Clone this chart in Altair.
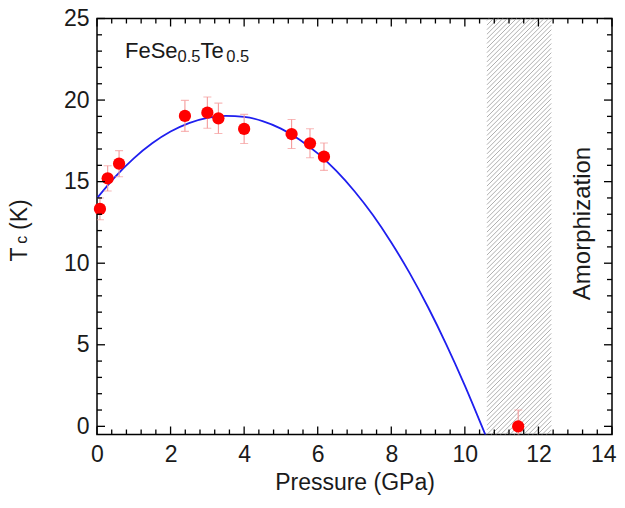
import altair as alt
import pandas as pd

# ---- data ----
pressure = [0.08, 0.29, 0.60, 2.39, 3.00, 3.30, 4.00, 5.29, 5.79, 6.17, 11.45]
tc = [13.33, 15.20, 16.10, 19.03, 19.23, 18.88, 18.23, 17.92, 17.35, 16.53, 0.0]
tc_err = [0.67, 0.77, 0.80, 0.95, 0.96, 0.93, 0.89, 0.89, 0.89, 0.84, 1.00]

# points
fit_p = [0.0, 0.5, 1.0, 1.5, 2.0, 2.5, 3.0, 3.5, 4.0, 4.5, 5.0, 5.5, 6.0, 6.5,
         7.0, 7.5, 8.0, 8.5, 9.0, 9.5, 10.0, 10.5, 10.56]
fit_tc = [13.99, 15.31, 16.43, 17.35, 18.07, 18.59, 18.91, 19.03, 18.97, 18.71,
          18.25, 17.59, 16.73, 15.67, 14.41, 12.95, 11.27, 9.39, 7.30, 5.00,
          2.50, -0.20, -0.53]

amorph_range = [10.6, 12.35]

x_major = [0, 2, 4, 6, 8, 10, 12, 14]
y_major = [0, 5, 10, 15, 20, 25]

W, H = 515, 416
XMIN, XMAX = 0, 14
YMIN, YMAX = -0.5, 25

xs = alt.Scale(domain=[XMIN, XMAX], nice=False, zero=False)
ys = alt.Scale(domain=[YMIN, YMAX], nice=False, zero=False)
FONT = "Liberation Sans"
TXT = "#1a1a1a"

last_x = "datum.value == %d" % x_major[-1]
xaxis = alt.Axis(values=x_major, ticks=False, domain=False, grid=False,
                 labelFontSize=23, labelFont=FONT, labelColor=TXT, labelPadding=9,
                 labelFlush=False,
                 labelAlign={"condition": {"test": last_x, "value": "right"}, "value": "center"},
                 labelOffset={"condition": {"test": last_x, "value": 4}, "value": 0},
                 title="Pressure (GPa)", titleFont=FONT,
                 titleFontSize=23, titleFontWeight="normal", titleColor=TXT,
                 titleBaseline="alphabetic", titleY=54.5, format="d")
yaxis = alt.Axis(values=y_major, ticks=False, domain=False, grid=False,
                 labelFontSize=23, labelFont=FONT, labelColor=TXT, labelPadding=8,
                 labelFlush=False, title="", format="d")


def X(f):
    return alt.X(f, type="quantitative", scale=xs, axis=xaxis)


def Y(f):
    return alt.Y(f, type="quantitative", scale=ys, axis=yaxis)


pts = pd.DataFrame({"P": pressure, "Tc": tc,
                    "lo": [t - e for t, e in zip(tc, tc_err)],
                    "hi": [t + e for t, e in zip(tc, tc_err)]})
caps = pd.DataFrame({"P": pressure * 2,
                     "Tc": list(pts["lo"]) + list(pts["hi"])})
curve = pd.DataFrame({"P": fit_p, "Tc": fit_tc})

# hatch lines (45 degrees in pixel space) inside the amorphization band
x0, x1 = amorph_range
pxx = W / (XMAX - XMIN)
pxy = H / (YMAX - YMIN)
rise = (x1 - x0) * pxx / pxy
step = 4.6 / pxy
hatch_rows = []
yy = YMIN - rise
while yy < YMAX:
    hatch_rows.append({"P": x0, "Tc": yy, "P2": x1, "Tc2": yy + rise})
    yy += step
hatch = pd.DataFrame(hatch_rows)

# ticks (inward, on all four sides)
x_minor = [m + k * 0.4 for m in x_major[:-1] for k in range(1, 5)]
y_minor = [m + k for m in y_major[:-1] for k in range(1, 5)]
MAJ, MIN = 8, 5

layers = []
for vals, ln in ((x_major, MAJ), (x_minor, MIN)):
    d = pd.DataFrame({"v": vals})
    layers.append(alt.Chart(d).mark_rule(color="black", strokeWidth=1.3).encode(
        x=X("v"), y=alt.value(H), y2=alt.value(H - ln)))
    layers.append(alt.Chart(d).mark_rule(color="black", strokeWidth=1.3).encode(
        x=X("v"), y=alt.value(0), y2=alt.value(ln)))
for vals, ln in ((y_major, MAJ), (y_minor, MIN)):
    d = pd.DataFrame({"v": vals})
    layers.append(alt.Chart(d).mark_rule(color="black", strokeWidth=1.3).encode(
        y=Y("v"), x=alt.value(0), x2=alt.value(ln)))
    layers.append(alt.Chart(d).mark_rule(color="black", strokeWidth=1.3).encode(
        y=Y("v"), x=alt.value(W), x2=alt.value(W - ln)))

hatch_layer = alt.Chart(hatch).mark_rule(color="#9a9a9a", strokeWidth=0.8, clip=True).encode(
    x=X("P"), y=Y("Tc"), x2="P2", y2="Tc2")

fit_layer = alt.Chart(curve).mark_line(color="#1f1fef", strokeWidth=1.8,
                                       interpolate="monotone", clip=True).encode(
    x=X("P"), y=Y("Tc"))

err_layer = alt.Chart(pts).mark_rule(color="#f59a9a", strokeWidth=1.1, clip=True).encode(
    x=X("P"), y=Y("lo"), y2="hi")
cap_layer = alt.Chart(caps).mark_tick(color="#f59a9a", orient="horizontal", size=8,
                                      thickness=1.1, clip=True).encode(
    x=X("P"), y=Y("Tc"))
pt_layer = alt.Chart(pts).mark_circle(color="#ff0000", opacity=1, size=150).encode(
    x=X("P"), y=Y("Tc"))

# annotations
label_parts = pd.DataFrame({
    "t": ["FeSe", "0.5", "Te", "0.5"],
    "px": [28, 80.6, 103.5, 129.2],
    "py": [39.2, 43.4, 39.2, 43.4],
    "fs": [22, 16.5, 22, 16.5],
})
ann = []
for _, r in label_parts.iterrows():
    ann.append(alt.Chart(pd.DataFrame({"t": [r.t]})).mark_text(
        align="left", baseline="alphabetic", font=FONT, fontSize=float(r.fs), color=TXT).encode(
        text="t:N", x=alt.value(float(r.px)), y=alt.value(float(r.py))))

ytitle = pd.DataFrame({
    "t": ["T", "c", "(K)"],
    "px": [26.7 - 97, 27.2 - 97, 26.7 - 97],
    "py": [261.5 - 18.5, 243.8 - 18.5, 230.0 - 18.5],
    "fs": [23, 16, 23],
})
for _, r in ytitle.iterrows():
    ann.append(alt.Chart(pd.DataFrame({"t": [r.t]})).mark_text(
        align="left", baseline="alphabetic", angle=270, font=FONT, fontSize=float(r.fs),
        color=TXT).encode(text="t:N", x=alt.value(float(r.px)), y=alt.value(float(r.py))))

ann.append(alt.Chart(pd.DataFrame({"t": ["Amorphization"]})).mark_text(
    align="center", baseline="alphabetic", angle=270, font=FONT, fontSize=24,
    color=TXT).encode(text="t:N", x=alt.value(590 - 97), y=alt.value(223.5 - 18.5)))

chart = alt.layer(
    hatch_layer, fit_layer, err_layer, cap_layer, pt_layer, *layers, *ann
).properties(
    width=W, height=H,
    autosize=alt.AutoSizeParams(type="none"),
    padding={"left": 89, "top": 10.5, "right": 5, "bottom": 60},
).configure_view(stroke="black", strokeWidth=1.5)

chart.save("out.html", embed_options={"renderer": "svg", "actions": False})
